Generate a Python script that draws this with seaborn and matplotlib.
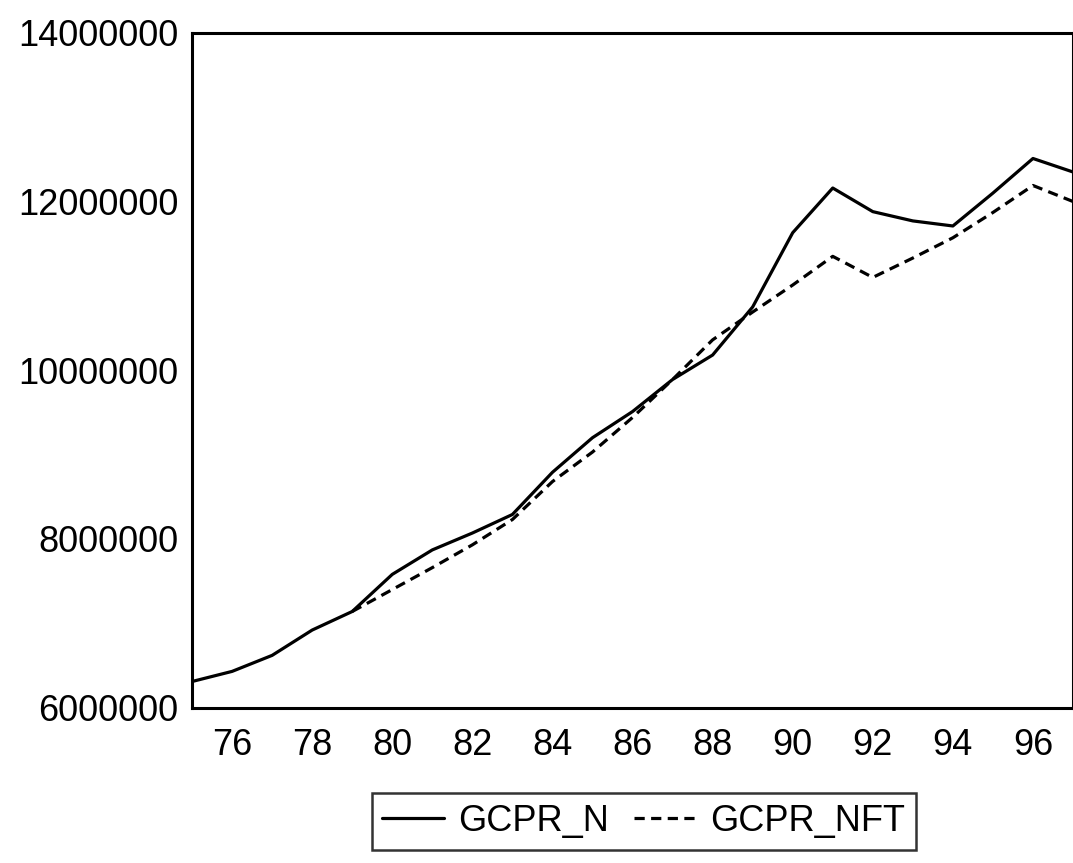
import numpy as np
import pandas as pd
import matplotlib
matplotlib.use("Agg")
import matplotlib.pyplot as plt
import seaborn as sns

# years 1975..1997, labelled by two digits on the axis
years = list(range(75, 98))

# GCPR_N: actual series
gcpr_n = [6310000, 6430000, 6620000, 6920000, 7140000, 7580000, 7870000,
          8070000, 8290000, 8790000, 9200000, 9510000, 9890000, 10180000,
          10750000, 11630000, 12160000, 11880000, 11770000, 11710000,
          12100000, 12510000, 12350000]

# GCPR_NFT: forecast, starts at 1979
gcpr_nft = [np.nan, np.nan, np.nan, np.nan, 7140000, 7400000, 7660000,
            7930000, 8230000, 8680000, 9030000, 9440000, 9890000, 10360000,
            10690000, 11010000, 11350000, 11100000, 11330000, 11570000,
            11870000, 12190000, 12000000]

y_ticks = [6000000, 8000000, 10000000, 12000000, 14000000]
x_labels = list(range(76, 97, 2))

sns.set_theme(style="white")
plt.rcParams['font.family'] = ['Liberation Sans', 'DejaVu Sans']
plt.rcParams['text.color'] = 'black'

df = pd.DataFrame({'year': years, 'GCPR_N': gcpr_n, 'GCPR_NFT': gcpr_nft})

fig = plt.figure(figsize=(10.73, 8.63), dpi=100)
ax = fig.add_axes([0.179, 0.18, 0.821, 0.782])

sns.lineplot(data=df, x='year', y='GCPR_N', ax=ax, color='black',
             linewidth=2.3, label='GCPR_N')
sns.lineplot(data=df.dropna(), x='year', y='GCPR_NFT', ax=ax, color='black',
             linewidth=2.3, linestyle=(0, (3.2, 2.0)), label='GCPR_NFT')

ax.set_xlim(75, 97)
ax.set_ylim(6000000, 14000000)
ax.set_xticks(years)
ax.set_xticklabels([str(y) if y in x_labels else '' for y in years])
ax.set_yticks(y_ticks)
ax.set_yticklabels([str(v) for v in y_ticks])
ax.set_xlabel('')
ax.set_ylabel('')

ax.tick_params(axis='y', direction='out', length=7, width=1.8,
               colors='black', labelsize=26, pad=3)
ax.tick_params(axis='x', direction='out', length=8, width=1.8,
               colors='black', labelsize=26, pad=7)
for s in ax.spines.values():
    s.set_visible(True)
    s.set_color('black')
    s.set_linewidth(2.2)

ax.get_legend().remove()
handles, labels = ax.get_legend_handles_labels()
leg = fig.legend(handles, labels, loc='center', bbox_to_anchor=(0.6, 0.048),
                 ncol=2, fontsize=26, frameon=True, fancybox=False,
                 handlelength=1.7, handletextpad=0.4, columnspacing=0.7,
                 borderpad=0.3, borderaxespad=0)
leg.get_frame().set_edgecolor('black')
leg.get_frame().set_linewidth(1.8)
for t in leg.get_texts():
    t.set_color('black')

fig.savefig('out.png', dpi=100)
